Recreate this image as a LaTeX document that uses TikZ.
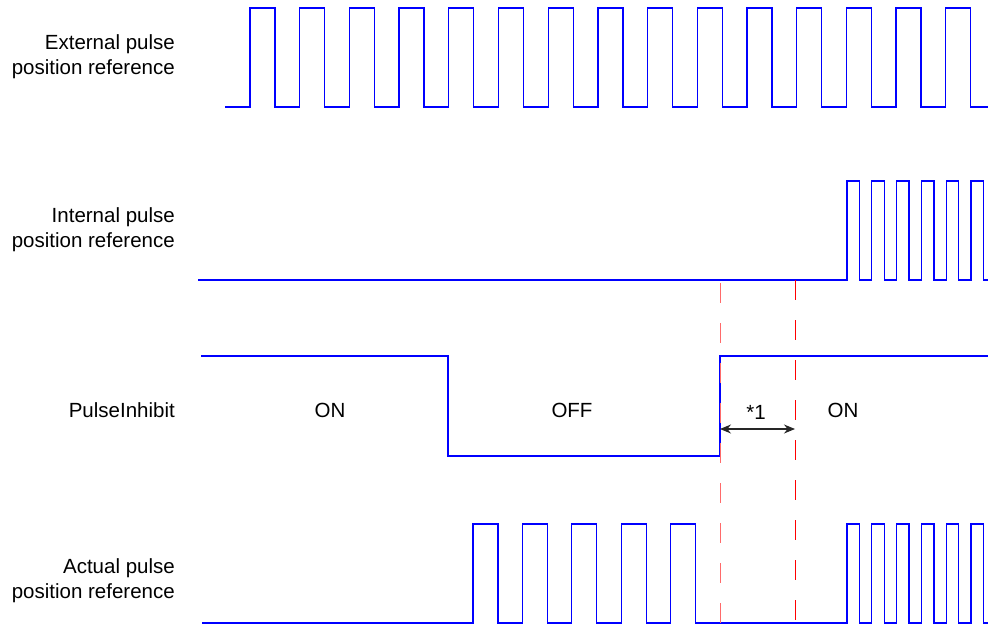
\documentclass[tikz,border=0pt]{standalone}
\usepackage{fontspec}
\setmainfont{Liberation Sans}
\usetikzlibrary{arrows.meta,positioning}
\definecolor{sig}{HTML}{0000FF}
\definecolor{cutred}{HTML}{FF0000}
\definecolor{cutpink}{HTML}{FF6A6A}
\tikzset{
  lbl/.style={font=\fontsize{20.5}{25}\selectfont, align=right, anchor=east, inner sep=0pt},
  state/.style={font=\fontsize{20.5}{25}\selectfont, inner sep=0pt},
  wave/.style={draw=sig, line width=1.3pt, line join=miter},
  cut/.style={line width=1pt, dash pattern=on 20pt off 20pt},
  span/.style={{Stealth[length=11pt,width=9pt]}-{Stealth[length=11pt,width=9pt]}, draw=black!85, line width=1.1pt}
}
\begin{document}
\begin{tikzpicture}[x=1pt,y=-1pt]
  \useasboundingbox (0,0) rectangle (988,626);
  \node[lbl] (lblext) at (175,57) {External pulse\\position reference};
  \node[lbl] (lblint) at (175,230) {Internal pulse\\position reference};
  \node[lbl] (lblinh) at (175,410) {PulseInhibit};
  \node[lbl] (lblact) at (175,581) {Actual pulse\\position reference};

  \draw[wave] (225,107) foreach \k in {0,...,14}{ -- ({250+49.7*\k},107) -- ++(0,-99) -- ++(25,0) -- ++(0,99)} -- (988,107);
  \draw[wave] (198,280) foreach \k in {0,...,5}{ -- ({847+24.8*\k},280) -- ++(0,-99) -- ++(12.5,0) -- ++(0,99)} -- (988,280);
  \draw[wave] (201,356) -- (448,356) -- (448,456) -- (720,456) -- (720,356) -- (988,356);
  \draw[wave] (202,623) foreach \k in {0,...,4}{ -- ({473+49.4*\k},623) -- ++(0,-99) -- ++(25,0) -- ++(0,99)}
    foreach \k in {0,...,5}{ -- ({847+24.8*\k},623) -- ++(0,-99) -- ++(12.5,0) -- ++(0,99)} -- (988,623);

  \node[state] (on1) at (330,410) {ON};
  \node[state] (off) at (572,410) {OFF};
  \node[state] (on2) at (843,410) {ON};

  \coordinate (cut1top) at (720,283); \coordinate (cut1bot) at (720,623);
  \coordinate (cut2top) at (795,280); \coordinate (cut2bot) at (795,623);
  \draw[cut, draw=cutpink] (cut1top) -- (cut1bot);
  \draw[cut, draw=cutred] (cut2top) -- (cut2bot);

  \coordinate (spanl) at (720,429); \coordinate (spanr) at (795,429);
  \draw[span] (spanl) -- (spanr);
  \node[state] (delay) at (756,412) {*1};
\end{tikzpicture}
\end{document}
